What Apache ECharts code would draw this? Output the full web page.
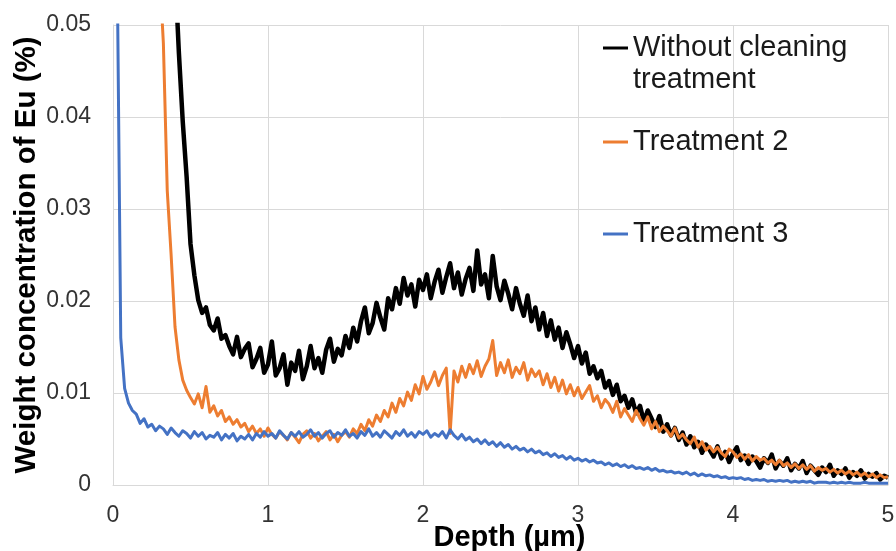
<!DOCTYPE html>
<html>
<head>
<meta charset="utf-8">
<script src="https://cdn.jsdelivr.net/npm/echarts@6/dist/echarts.min.js"></script>
<style>
html,body{margin:0;padding:0;background:#fff;}
#chart{width:896px;height:551px;}
</style>
</head>
<body>
<div id="chart"></div>
<script>
// Depth grid (µm)
const depth = [
0,0.025,0.05,0.075,0.1,0.125,0.15,0.175,
0.2,0.225,0.25,0.275,0.3,0.325,0.35,0.375,
0.4,0.425,0.45,0.475,0.5,0.525,0.55,0.575,
0.6,0.625,0.65,0.675,0.7,0.725,0.75,0.775,
0.8,0.825,0.85,0.875,0.9,0.925,0.95,0.975,
1,1.025,1.05,1.075,1.1,1.125,1.15,1.175,
1.2,1.225,1.25,1.275,1.3,1.325,1.35,1.375,
1.4,1.425,1.45,1.475,1.5,1.525,1.55,1.575,
1.6,1.625,1.65,1.675,1.7,1.725,1.75,1.775,
1.8,1.825,1.85,1.875,1.9,1.925,1.95,1.975,
2,2.025,2.05,2.075,2.1,2.125,2.15,2.175,
2.2,2.225,2.25,2.275,2.3,2.325,2.35,2.375,
2.4,2.425,2.45,2.475,2.5,2.525,2.55,2.575,
2.6,2.625,2.65,2.675,2.7,2.725,2.75,2.775,
2.8,2.825,2.85,2.875,2.9,2.925,2.95,2.975,
3,3.025,3.05,3.075,3.1,3.125,3.15,3.175,
3.2,3.225,3.25,3.275,3.3,3.325,3.35,3.375,
3.4,3.425,3.45,3.475,3.5,3.525,3.55,3.575,
3.6,3.625,3.65,3.675,3.7,3.725,3.75,3.775,
3.8,3.825,3.85,3.875,3.9,3.925,3.95,3.975,
4,4.025,4.05,4.075,4.1,4.125,4.15,4.175,
4.2,4.225,4.25,4.275,4.3,4.325,4.35,4.375,
4.4,4.425,4.45,4.475,4.5,4.525,4.55,4.575,
4.6,4.625,4.65,4.675,4.7,4.725,4.75,4.775,
4.8,4.825,4.85,4.875,4.9,4.925,4.95,4.975,
5
];

const seriesNames = ['Without cleaning\ntreatment', 'Treatment 2', 'Treatment 3'];

// Without cleaning treatment: starts at depth 0.4
const blackStart = 0.4;
const blackVals = [
0.056,0.047,0.0395,0.0335,
0.0262,0.0228,0.0201,0.0187,
0.0193,0.0174,0.0168,0.0181,
0.0159,0.0163,0.0151,0.0142,
0.0161,0.0139,0.0148,0.0154,
0.0128,0.0137,0.0149,0.0122,
0.0131,0.0156,0.0119,0.0127,
0.0142,0.0109,0.0133,0.0124,
0.0146,0.0115,0.0129,0.0151,
0.0127,0.0138,0.0122,0.0147,
0.0159,0.0134,0.0148,0.0141,
0.0162,0.0149,0.0171,0.0156,
0.0178,0.0193,0.0165,0.0176,
0.0198,0.0182,0.0169,0.0203,
0.0191,0.0214,0.0197,0.0225,
0.0206,0.0218,0.0194,0.0223,
0.0212,0.0229,0.0203,0.0221,
0.0234,0.0209,0.0226,0.0241,
0.0214,0.0231,0.0207,0.0224,
0.0236,0.0211,0.0255,0.0218,
0.0229,0.0203,0.0249,0.0216,
0.0201,0.0222,0.0208,0.0191,
0.0214,0.0197,0.0184,0.0206,
0.0178,0.0193,0.0169,0.0187,
0.0162,0.0179,0.0158,0.0171,
0.0149,0.0166,0.0153,0.0138,
0.0151,0.0132,0.0144,0.0121,
0.0129,0.0116,0.0124,0.0106,
0.0113,0.0098,0.0109,0.0091,
0.0097,0.0084,0.0093,0.0078,
0.0086,0.0069,0.0081,0.0072,
0.0063,0.0075,0.0058,0.0066,
0.0054,0.0062,0.0049,0.0057,
0.0044,0.0053,0.0041,0.0047,
0.0035,0.0044,0.0038,0.0031,
0.0042,0.0029,0.0036,0.0025,
0.0034,0.0041,0.0027,0.0032,
0.0023,0.0031,0.0026,0.0019,
0.0029,0.0024,0.0033,0.0018,
0.0026,0.0021,0.0029,0.0016,
0.0023,0.0018,0.0026,0.0013,
0.0021,0.0016,0.0011,0.0019,
0.0014,0.0022,0.0010,0.0016,
0.0012,0.0018,0.0008,0.0014,
0.0010,0.0016,0.0007,0.0012,
0.0009,0.0013,0.0006,0.0010,
0.0008
];

// Treatment 2: starts at depth 0.3
const orangeStart = 0.3;
const orangeVals = [
0.056,0.048,0.032,0.025,
0.0172,0.0136,0.0114,0.0103,
0.0095,0.0088,0.0099,0.0084,
0.0107,0.0079,0.0086,0.0075,
0.0081,0.0069,0.0074,0.0066,
0.0071,0.0063,0.0067,0.0058,
0.0064,0.0056,0.0061,0.0053,
0.0062,0.0055,0.0051,0.0058,
0.0054,0.0049,0.0057,0.0052,
0.0046,0.0055,0.0059,0.0051,
0.0056,0.0048,0.0053,0.0058,
0.0049,0.0055,0.0047,0.0054,
0.0058,0.0052,0.0061,0.0056,
0.0066,0.0059,0.0071,0.0064,
0.0076,0.0069,0.0081,0.0074,
0.0089,0.0079,0.0094,0.0086,
0.0101,0.0092,0.0109,0.0099,
0.0118,0.0104,0.0112,0.0123,
0.0108,0.0119,0.0127,0.0056,
0.0124,0.0112,0.0129,0.0117,
0.0131,0.0121,0.0135,0.0118,
0.0129,0.0137,0.0157,0.0119,
0.0133,0.0122,0.0136,0.0117,
0.0128,0.0121,0.0133,0.0114,
0.0126,0.0118,0.0124,0.0109,
0.0121,0.0106,0.0117,0.0102,
0.0114,0.0099,0.0109,0.0097,
0.0106,0.0094,0.0101,0.0108,
0.0091,0.0097,0.0084,0.0093,
0.0088,0.0079,0.0091,0.0074,
0.0083,0.0076,0.0069,0.0081,
0.0072,0.0065,0.0074,0.0061,
0.0069,0.0058,0.0064,0.0059,
0.0053,0.0062,0.0051,0.0055,
0.0049,0.0045,0.0052,0.0041,
0.0047,0.0038,0.0042,0.0036,
0.0041,0.0035,0.0031,0.0039,
0.0036,0.0030,0.0034,0.0028,
0.0033,0.0026,0.0031,0.0027,
0.0029,0.0024,0.0027,0.0022,
0.0027,0.0021,0.0024,0.0019,
0.0023,0.0018,0.0022,0.0017,
0.0021,0.0015,0.0019,0.0016,
0.0018,0.0014,0.0017,0.0013,
0.0016,0.0012,0.0015,0.0011,
0.0014,0.0010,0.0013,0.0009,
0.0012,0.0008,0.0011,0.0008,
0.0009
];

// Treatment 3: starts at depth 0
const blueStart = 0;
const blueVals = [
0.2,0.06,0.016,0.0105,
0.0089,0.0081,0.0077,0.0067,
0.0072,0.0063,0.0066,0.0059,
0.0064,0.0061,0.0055,0.0062,
0.0057,0.0053,0.0059,0.0056,
0.0051,0.0058,0.0053,0.0057,
0.0050,0.0054,0.0052,0.0057,
0.0049,0.0055,0.0051,0.0056,
0.0048,0.0053,0.0050,0.0055,
0.0049,0.0056,0.0052,0.0058,
0.0053,0.0056,0.0051,0.0059,
0.0054,0.0050,0.0057,0.0053,
0.0058,0.0052,0.0055,0.0060,
0.0053,0.0057,0.0051,0.0056,
0.0059,0.0052,0.0057,0.0054,
0.0060,0.0053,0.0056,0.0051,
0.0058,0.0054,0.0061,0.0053,
0.0057,0.0052,0.0059,0.0055,
0.0051,0.0058,0.0054,0.0060,
0.0053,0.0057,0.0052,0.0058,
0.0055,0.0059,0.0052,0.0056,
0.0053,0.0058,0.0051,0.0060,
0.0054,0.0050,0.0055,0.0049,
0.0052,0.0047,0.0050,0.0045,
0.0049,0.0044,0.0047,0.0042,
0.0046,0.0041,0.0044,0.0039,
0.0042,0.0038,0.0040,0.0036,
0.0039,0.0035,0.0037,0.0033,
0.0035,0.0031,0.0034,0.0030,
0.0032,0.0028,0.0031,0.0027,
0.0029,0.0026,0.0028,0.0025,
0.0027,0.0024,0.0025,0.0022,
0.0024,0.0021,0.0023,0.0020,
0.0022,0.0019,0.0021,0.0018,
0.0019,0.0017,0.0019,0.0016,
0.0018,0.0015,0.0016,0.0014,
0.0015,0.0013,0.0014,0.0012,
0.0014,0.0011,0.0013,0.0010,
0.0012,0.0010,0.0011,0.0009,
0.0010,0.0008,0.0009,0.0007,
0.0008,0.0007,0.0008,0.0006,
0.0007,0.0005,0.0006,0.0005,
0.0006,0.0004,0.0005,0.0004,
0.0005,0.0004,0.0005,0.0003,
0.0004,0.0003,0.0004,0.0003,
0.0004,0.0002,0.0003,0.0003,
0.0003,0.0002,0.0003,0.0002,
0.0003,0.0002,0.0003,0.0002,
0.0002,0.0002,0.0003,0.0002,
0.0002,0.0002,0.0002,0.0002,
0.0002
];

const xTicks = { min: 0, max: 5, interval: 1 };
const yTicks = { min: 0, max: 0.05, interval: 0.01 };

const colors = ['#000000', '#ED7D31', '#4472C4'];
const widths = [4.5, 3, 3];

function pairs(vals, start) {
  const k = depth.indexOf(start);
  return vals.map((v, i) => [depth[k + i], v]);
}

const FONT = 'Liberation Sans, Arial, sans-serif';
const chart = echarts.init(document.getElementById('chart'), null, { renderer: 'canvas' });

const legendText = { fontFamily: FONT, fontSize: 29, color: '#1a1a1a', lineHeight: 32 };
const legendBase = {
  orient: 'vertical',
  left: 603,
  padding: 0,
  itemWidth: 25,
  itemHeight: 3,
  icon: 'rect',
  selectedMode: false,
  textStyle: legendText
};

chart.setOption({
  animation: false,
  color: colors,
  grid: { left: 113, right: 8, top: 25, bottom: 66, containLabel: false, outerBoundsMode: 'none' },
  legend: [
    Object.assign({}, legendBase, {
      top: 0,
      data: [seriesNames[0]],
      formatter: name => '{p| }\n' + name.split('\n').map(s => '{t|' + s + '}').join('\n'),
      textStyle: Object.assign({}, legendText, {
        rich: {
          p: { fontFamily: FONT, fontSize: 29, lineHeight: 32 },
          t: { fontFamily: FONT, fontSize: 29, lineHeight: 32, color: '#1a1a1a' }
        }
      })
    }),
    Object.assign({}, legendBase, { top: 126, data: [seriesNames[1]] }),
    Object.assign({}, legendBase, { top: 218, data: [seriesNames[2]] })
  ],
  xAxis: {
    type: 'value',
    min: xTicks.min, max: xTicks.max, interval: xTicks.interval,
    name: 'Depth (µm)',
    nameLocation: 'middle',
    nameGap: 38,
    nameMoveOverlap: false,
    nameTextStyle: { fontFamily: FONT, fontSize: 29, fontWeight: 'bold', color: '#000', padding: [0, 0, 0, 18] },
    axisLine: { show: true, lineStyle: { color: '#d9d9d9', width: 1 } },
    axisTick: { show: false },
    axisLabel: { fontFamily: FONT, fontSize: 23, color: '#333', margin: 19 },
    splitLine: { show: true, lineStyle: { color: '#d9d9d9', width: 1 } }
  },
  yAxis: {
    type: 'value',
    min: yTicks.min, max: yTicks.max, interval: yTicks.interval,
    name: 'Weight concentration of Eu (%)',
    nameLocation: 'middle',
    nameGap: 71,
    nameMoveOverlap: false,
    nameTextStyle: { fontFamily: FONT, fontSize: 29.5, fontWeight: 'bold', color: '#000' },
    axisLine: { show: true, lineStyle: { color: '#d9d9d9', width: 1 } },
    axisTick: { show: false },
    axisLabel: {
      fontFamily: FONT, fontSize: 23, color: '#333', margin: 22,
      formatter: v => (v === 0 ? '0' : v.toFixed(2))
    },
    splitLine: { show: true, lineStyle: { color: '#d9d9d9', width: 1 } }
  },
  series: [
    { name: seriesNames[0], type: 'line', data: pairs(blackVals, blackStart) },
    { name: seriesNames[1], type: 'line', data: pairs(orangeVals, orangeStart) },
    { name: seriesNames[2], type: 'line', data: pairs(blueVals, blueStart) }
  ].map((s, i) => Object.assign(s, {
    showSymbol: false,
    symbol: 'none',
    smooth: false,
    clip: true,
    lineStyle: { color: colors[i], width: widths[i], join: 'round' },
    itemStyle: { color: colors[i] },
    z: 2 + i
  }))
});
</script>
</body>
</html>
